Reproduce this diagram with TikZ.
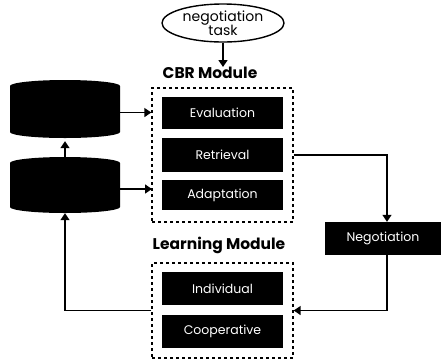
\documentclass[tikz,border=0pt]{standalone}
\usepackage{fontspec}
\setmainfont{Poppins}
\usetikzlibrary{shapes.geometric,arrows.meta}
\begin{document}
\begin{tikzpicture}[x=1pt,y=-1pt,
 proc/.style={fill=black, minimum width=121pt, inner sep=0pt, text=white, font=\fontsize{12.5}{14}\selectfont},
 modbox/.style={draw, dashed, line width=1.3pt, minimum width=141pt, inner sep=0pt},
 conn/.style={line width=1.4pt, -{Triangle[length=7pt,width=9pt]}},
 dbfill/.style={fill=black},
 dbnode/.style={rectangle, inner sep=0pt, minimum width=110pt},
 lab/.style={font=\bfseries\fontsize{15.5}{17}\selectfont, inner sep=0pt}]
\useasboundingbox (0,0) rectangle (441,360);
% task
\node[ellipse, draw, line width=1.4pt, minimum width=122pt, minimum height=38pt, inner sep=0pt, align=center, font=\fontsize{14}{14}\selectfont] (task) at (223,23) {negotiation\\[-1pt]task};
% labels
\node[lab] (cbrlab) at (210,73) {CBR Module};
\node[lab] (learnlab) at (219,245) {Learning Module};
% module boxes
\node[modbox, minimum height=134pt] (cbr) at (222.5,155) {};
\node[modbox, minimum height=95pt] (learn) at (222.5,310.5) {};
% process boxes
\node[proc, minimum height=32pt] (eval) at (222.5,112.5) {Evaluation};
\node[proc, minimum height=34pt] (retr) at (222.5,155) {Retrieval};
\node[proc, minimum height=30pt] (adapt) at (222.5,195) {Adaptation};
\node[proc, minimum height=33pt] (indiv) at (222.5,288.5) {Individual};
\node[proc, minimum height=33pt] (coop) at (222.5,331.5) {Cooperative};
\node[proc, minimum width=116pt, minimum height=33pt] (neg) at (383,238.5) {Negotiation};
% databases
\fill[dbfill] (10,86) arc[start angle=180, end angle=360, x radius=55, y radius=6]
  -- (120,132) arc[start angle=0, end angle=180, x radius=55, y radius=6] -- cycle;
\fill[dbfill] (10,163) arc[start angle=180, end angle=360, x radius=55, y radius=6]
  -- (120,207) arc[start angle=0, end angle=180, x radius=55, y radius=6] -- cycle;
\node[dbnode, minimum height=58pt] (db1) at (65,109) {};
\node[dbnode, minimum height=56pt] (db2) at (65,185) {};
% helper coordinates
\coordinate (a2) at (152,189);
\coordinate (nx) at (387,0);
% connectors
\draw[conn] (task.south) -- (task.south |- cbrlab.north);
\draw[conn] (db1.east |- eval) -- (cbr.west |- eval);
\draw[conn] (db2.east |- a2) -- (a2);
\draw[conn] (db2.north) -- ([yshift=-3pt]db1.south);
\draw[conn] (learn.west) -| (db2.south);
\draw[conn] (cbr.east |- retr) -| (nx |- neg.north);
\draw[conn] (nx |- neg.south) |- (learn.east);
\end{tikzpicture}
\end{document}
